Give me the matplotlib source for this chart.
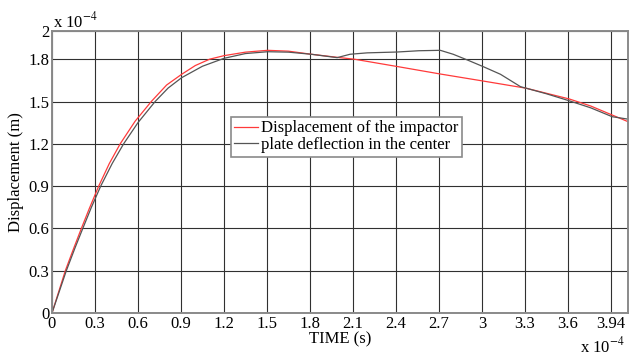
import matplotlib
matplotlib.use('Agg')
import matplotlib.pyplot as plt

plt.rcParams['font.family'] = ['Liberation Serif', 'DejaVu Serif']
plt.rcParams['mathtext.fontset'] = 'stix'

# time in units of 1e-4 s, displacement in units of 1e-4 m
t_impactor = [0, 0.093, 0.15, 0.205, 0.26, 0.326, 0.40, 0.476, 0.58, 0.693, 0.80, 0.905,
              1.0, 1.10, 1.2, 1.35, 1.505, 1.65, 1.81, 2.01, 2.11, 2.41, 2.71, 3.01, 3.31,
              3.61, 3.76, 3.91, 4.02]
d_impactor = [0, 0.3, 0.455, 0.6, 0.74, 0.9, 1.06, 1.2, 1.36, 1.5, 1.617, 1.693,
              1.755, 1.80, 1.825, 1.85, 1.863, 1.857, 1.835, 1.811, 1.80, 1.748, 1.695, 1.645, 1.594,
              1.518, 1.468, 1.404, 1.357]

t_plate = [0, 0.1, 0.16, 0.215, 0.275, 0.34, 0.42, 0.50, 0.60, 0.72, 0.81, 0.905, 1.05,
           1.2, 1.35, 1.505, 1.65, 1.81, 1.99, 2.08, 2.2, 2.41, 2.56, 2.71, 2.80, 2.90, 3.01,
           3.13, 3.27, 3.31, 3.45, 3.61, 3.76, 3.91, 4.02]
d_plate = [0, 0.3, 0.46, 0.6, 0.75, 0.9, 1.06, 1.2, 1.35, 1.5, 1.595, 1.669, 1.75,
           1.806, 1.84, 1.853, 1.85, 1.835, 1.811, 1.835, 1.845, 1.851, 1.86, 1.863, 1.835, 1.794, 1.747,
           1.693, 1.605, 1.594, 1.555, 1.505, 1.455, 1.392, 1.375]

x_ticks = [0, 0.3, 0.6, 0.9, 1.2, 1.5, 1.8, 2.1, 2.4, 2.7, 3.0, 3.3, 3.6, 3.9]
x_labels = ['0', '0.3', '0.6', '0.9', '1.2', '1.5', '1.8', '2.1', '2.4', '2.7', '3', '3.3', '3.6', '3.94']
y_ticks = [0, 0.3, 0.6, 0.9, 1.2, 1.5, 1.8, 2.0]
y_labels = ['0', '0.3', '0.6', '0.9', '1.2', '1.5', '1.8', '2']

fig = plt.figure(figsize=(6.31, 3.58), dpi=100)
ax = fig.add_axes([52 / 631, 1 - 313 / 358, 576 / 631, 282 / 358])

ax.plot(t_impactor, d_impactor, color='#ff3a3a', lw=0.9, label='Displacement of the impactor')
ax.plot(t_plate, d_plate, color='#555555', lw=0.9, label='plate deflection in the center')

ax.set_xlim(0, 4.02)
ax.set_ylim(0, 2)
ax.set_xticks(x_ticks)
ax.set_xticklabels(x_labels)
ax.set_yticks(y_ticks)
ax.set_yticklabels(y_labels)
ax.tick_params(labelsize=12, length=0, pad=2)
ax.grid(True, color='#303030', lw=0.8)

for s in ax.spines.values():
    s.set_color('#8a8a8a')
    s.set_linewidth(1.4)

ax.set_xlabel('TIME (s)', fontsize=12, labelpad=0)
ax.set_ylabel('Displacement (m)', fontsize=12, labelpad=3)

ax.text(0.002, 1.0, 'x 10$^{-4}$', transform=ax.transAxes, fontsize=12, ha='left', va='bottom')
ax.text(0.995, -0.14, 'x 10$^{-4}$', transform=ax.transAxes, fontsize=12, ha='right', va='baseline')

leg = ax.legend(loc='upper left', bbox_to_anchor=(0.311, 0.695), fontsize=12,
                fancybox=False, framealpha=1, edgecolor='#8a8a8a',
                handlelength=1.4, handletextpad=0.2, borderpad=0.2,
                labelspacing=0.05, borderaxespad=0)
leg.get_frame().set_linewidth(1.2)

fig.savefig('out.png', dpi=100)
